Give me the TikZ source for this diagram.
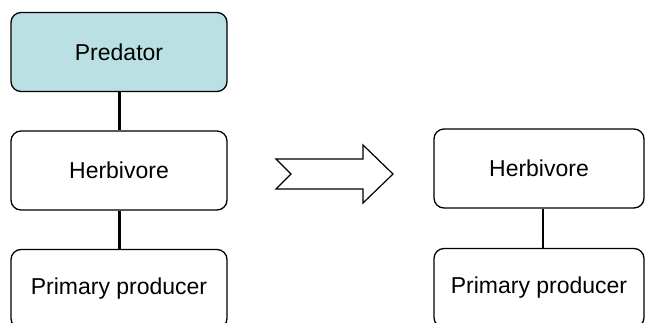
\documentclass[tikz,border=0pt]{standalone}
\usepackage{fontspec}
\setmainfont{Liberation Sans}
\definecolor{predfill}{RGB}{186,224,227}
\begin{document}
\begin{tikzpicture}[x=1pt,y=-1pt,
  box/.style={draw=black,line width=1.3pt,rounded corners=10pt,fill=white,
    minimum width=216pt,minimum height=79pt,inner sep=0pt,font=\fontsize{23}{27}\selectfont},
  link/.style={draw=black,line width=3pt},
  rlink/.style={draw=black,line width=2.2pt}]
\useasboundingbox (0,0) rectangle (645,322);
\clip (0,0) rectangle (645,322);
\node[box,fill=predfill] (pred) at (119,52) {Predator};
\node[box] (herb) at (119,170.5) {Herbivore};
\node[box] (prim) at (119,289) {Primary producer};
\node[box,minimum width=210pt] (rherb) at (539,168.5) {Herbivore};
\node[box,minimum width=210pt] (rprim) at (539,288) {Primary producer};
\draw[link] (pred.south) -- (herb.north);
\draw[link] (herb.south) -- (prim.north);
\draw[rlink] ([xshift=4pt]rherb.south) -- ([xshift=4pt]rprim.north);
\draw[line width=1.2pt,line join=miter,fill=white] (276,159) -- (363,159) -- (363,145) -- (393,174) -- (363,203) -- (363,189) -- (276,189) -- (291,174) -- cycle;
\end{tikzpicture}
\end{document}
